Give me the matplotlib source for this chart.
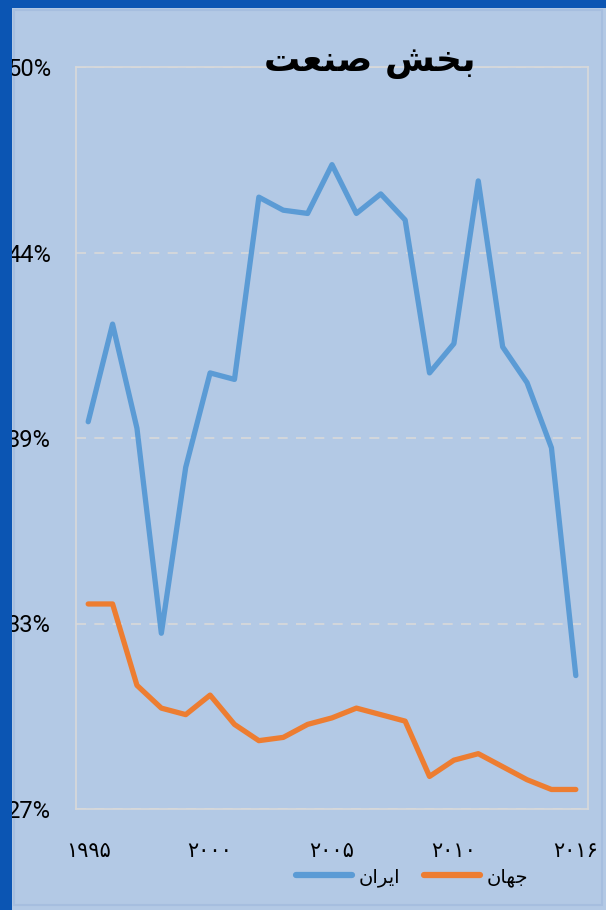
import numpy as np
import matplotlib
matplotlib.use('Agg')
import matplotlib.pyplot as plt
from matplotlib.patches import Rectangle
from matplotlib.ticker import PercentFormatter

# industry share of GDP, Iran vs world
years = [1995, 1996, 1997, 1998, 1999, 2000, 2001, 2002, 2003, 2004, 2005,
         2006, 2007, 2008, 2009, 2010, 2011, 2012, 2013, 2014, 2016]
iran = [39.1, 42.1, 38.9, 32.6, 37.7, 40.6, 40.4, 46.0, 45.6, 45.5, 47.0,
        45.5, 46.1, 45.3, 40.6, 41.5, 46.5, 41.4, 40.3, 38.3, 31.3]
world = [33.5, 33.5, 31.0, 30.3, 30.1, 30.7, 29.8, 29.3, 29.4, 29.8, 30.0,
         30.3, 30.1, 29.9, 28.2, 28.7, 28.9, 28.5, 28.1, 27.8, 27.8]
series_names = ['ایران', 'جهان']
title = 'بخش صنعت'
yticks = [0.272, 0.329, 0.386, 0.443, 0.50]

# matplotlib does no arabic shaping, so pick presentation forms by hand
# (isolated, final, initial, medial)
FORMS = {
    'ا': ('\uFE8D', '\uFE8E', None, None),
    'ب': ('\uFE8F', '\uFE90', '\uFE91', '\uFE92'),
    'ت': ('\uFE95', '\uFE96', '\uFE97', '\uFE98'),
    'ج': ('\uFE9D', '\uFE9E', '\uFE9F', '\uFEA0'),
    'خ': ('\uFEA5', '\uFEA6', '\uFEA7', '\uFEA8'),
    'ر': ('\uFEAD', '\uFEAE', None, None),
    'ش': ('\uFEB5', '\uFEB6', '\uFEB7', '\uFEB8'),
    'ص': ('\uFEB9', '\uFEBA', '\uFEBB', '\uFEBC'),
    'ع': ('\uFEC9', '\uFECA', '\uFECB', '\uFECC'),
    'ن': ('\uFEE5', '\uFEE6', '\uFEE7', '\uFEE8'),
    'ه': ('\uFEE9', '\uFEEA', '\uFEEB', '\uFEEC'),
    'ی': ('\uFBFC', '\uFBFD', '\uFBFE', '\uFBFF'),
}

def shape(text):
    words = []
    for word in text.split(' '):
        chars = []
        for i, ch in enumerate(word):
            iso, fin, ini, med = FORMS[ch]
            prev_joins = i > 0 and FORMS[word[i-1]][2] is not None
            has_next = i < len(word) - 1
            if prev_joins and has_next and med:
                chars.append(med)
            elif prev_joins:
                chars.append(fin)
            elif has_next and ini:
                chars.append(ini)
            else:
                chars.append(iso)
        words.append(''.join(reversed(chars)))
    return ' '.join(reversed(words))

def fa_digits(n):
    return str(n).translate(str.maketrans('0123456789', '۰۱۲۳۴۵۶۷۸۹'))

W, H = 606, 910
fig = plt.figure(figsize=(W/100, H/100), dpi=100)
fig.patch.set_facecolor('#0b55b3')
# light panel
fig.patches.append(Rectangle((12/W, 0), 1, 902/H, transform=fig.transFigure,
                             facecolor='#b3c9e5', edgecolor='none', zorder=-5))
fig.patches.append(Rectangle((14/W, 5/H), 588/W, 895/H, transform=fig.transFigure,
                             facecolor='none', edgecolor='#a6bedf', lw=1.5, zorder=-4))

ax = fig.add_axes([76/W, 1-809/H, 512/W, 742/H])
ax.set_facecolor('none')

x = np.arange(len(years))
ax.plot(x, np.array(iran)/100, color='#5b9bd5', lw=3.8, solid_capstyle='round',
        solid_joinstyle='round', label=shape(series_names[0]), zorder=3)
ax.plot(x, np.array(world)/100, color='#ed7d31', lw=3.8, solid_capstyle='round',
        solid_joinstyle='round', label=shape(series_names[1]), zorder=3)

ax.set_xlim(-0.5, len(years)-0.5)
ax.set_ylim(yticks[0], yticks[-1])
ax.set_yticks(yticks)
ax.yaxis.set_major_formatter(PercentFormatter(1, decimals=0))
ax.grid(axis='y', color='#d9d9d9', lw=1.2, ls=(0, (6, 5)))
ax.set_axisbelow(True)
for s in ax.spines.values():
    s.set_color('#d9d9d9')
    s.set_linewidth(1.2)

tick_idx = list(range(0, len(years), 5))
ax.set_xticks(tick_idx)
ax.set_xticklabels([fa_digits(years[i]) for i in tick_idx], family='DejaVu Sans', fontsize=15)
ax.tick_params(axis='x', length=0, pad=23)
ax.tick_params(axis='y', length=0, pad=18, labelsize=17)
for t in ax.get_yticklabels():
    t.set_family('Roboto')

fig.text(370/W, 1-62/H, shape(title), ha='center', va='center', fontsize=26,
         fontweight='bold', family='DejaVu Sans', color='black')

leg = fig.legend(loc='center', bbox_to_anchor=(412/W, 1-877/H), ncol=2, frameon=False,
                 handlelength=2.9, columnspacing=1.2, handletextpad=0.35,
                 prop={'family': 'DejaVu Sans', 'size': 14})
for h in leg.get_lines():
    h.set_linewidth(4.5)

# dark frame strips over the clipped y labels
fig.patches.append(Rectangle((0, 0), 12/W, 1, transform=fig.transFigure,
                             facecolor='#0b55b3', edgecolor='none', zorder=10))
fig.patches.append(Rectangle((0, 902/H), 1, 8/H, transform=fig.transFigure,
                             facecolor='#0b55b3', edgecolor='none', zorder=10))

fig.savefig('out.png', dpi=100, facecolor=fig.get_facecolor())
